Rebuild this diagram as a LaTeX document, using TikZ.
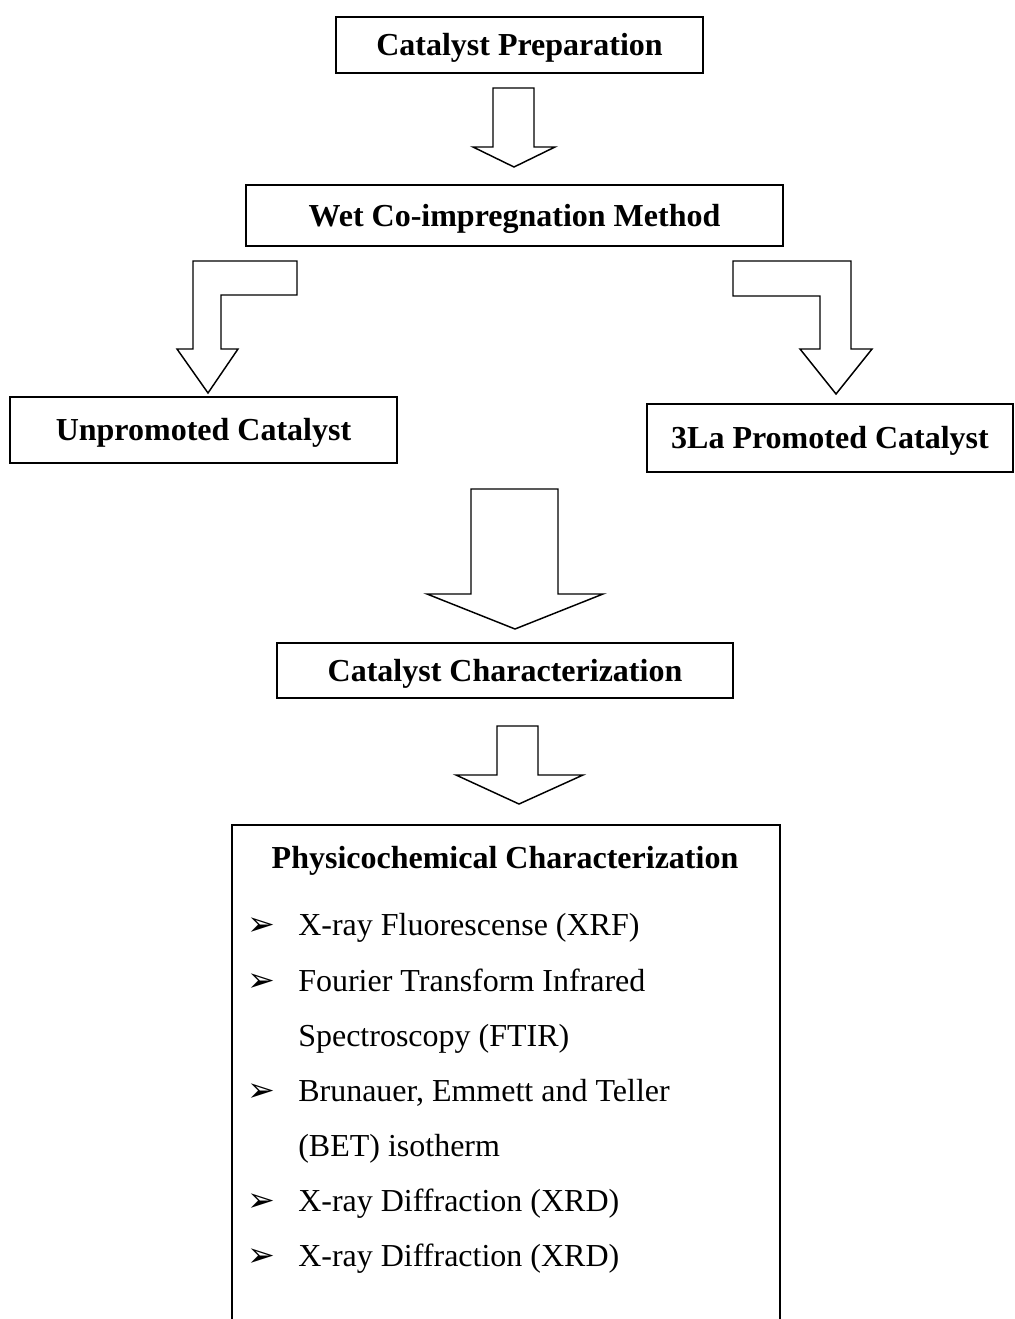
\documentclass[tikz,border=0pt]{standalone}
\usepackage{fontspec}
\setmainfont{Liberation Serif}
\newfontfamily\symfont{DejaVu Sans}
\begin{document}
\begin{tikzpicture}[x=0.75pt, y=-0.75pt,
        box/.style={rectangle, draw, line width=1.5pt, inner sep=0pt, text height=17pt, text depth=1pt, font=\fontsize{24}{28}\selectfont\bfseries},
        blockarrow/.style={draw, line width=1.1pt, fill=white, line join=miter},
        item/.style={anchor=base west, inner sep=0pt, font=\fontsize{24}{28}\selectfont},
        tick/.style={anchor=base west, inner sep=0pt, font=\symfont\fontsize{25}{28}\selectfont}
    ]
        \useasboundingbox (0,0) rectangle (1014,1319);

        \node[box, minimum width=275.25pt, minimum height=42pt] (prep) at (519.5,45) {Catalyst Preparation};
        \node[box, minimum width=402.75pt, minimum height=45.75pt] (wet) at (514.5,215.5) {Wet Co-impregnation Method};
        \node[box, minimum width=290.25pt, minimum height=49.5pt] (unprom) at (203.5,430) {Unpromoted Catalyst};
        \node[box, minimum width=274.5pt, minimum height=51pt] (prom) at (830,438) {3La Promoted Catalyst};
        \node[box, minimum width=342pt, minimum height=41.25pt] (charac) at (505,670.5) {Catalyst Characterization};
        \node[box, minimum width=411pt, minimum height=378.75pt] (phys) at (506,1077.5) {};
        \node[box, draw=none] (physhead) at (505,858) {Physicochemical Characterization};

        % block arrows
        \draw[blockarrow] (493,88) -- (534,88) -- (534,147) -- (555,147) -- (514,167) -- (473,147) -- (493,147) -- cycle;
        \draw[blockarrow] (297,261) -- (193,261) -- (193,349) -- (177,349) -- (208,393) -- (238,349) -- (221,349) -- (221,295) -- (297,295) -- cycle;
        \draw[blockarrow] (733,261) -- (851,261) -- (851,349) -- (872,349) -- (836,394) -- (800,349) -- (820,349) -- (820,296) -- (733,296) -- cycle;
        \draw[blockarrow] (471,489) -- (558,489) -- (558,594) -- (603,594) -- (515,629) -- (427,594) -- (471,594) -- cycle;
        \draw[blockarrow] (497,726) -- (538,726) -- (538,775) -- (583,775) -- (519,804) -- (456,775) -- (497,775) -- cycle;

        % list
        \node[tick] (b1) at (247,935) {➢};
        \node[item] (xrf) at (298,935) {X-ray Fluorescense (XRF)};
        \node[tick] (b2) at (247,991) {➢};
        \node[item] (ftir) at (298,991) {Fourier Transform Infrared};
        \node[item] (ftir2) at (298,1046) {Spectroscopy (FTIR)};
        \node[tick] (b3) at (247,1101) {➢};
        \node[item] (bet) at (298,1101) {Brunauer, Emmett and Teller};
        \node[item] (bet2) at (298,1156) {(BET) isotherm};
        \node[tick] (b4) at (247,1211) {➢};
        \node[item] (xrd) at (298,1211) {X-ray Diffraction (XRD)};
        \node[tick] (b5) at (247,1266) {➢};
        \node[item] (xrd2) at (298,1266) {X-ray Diffraction (XRD)};
    \end{tikzpicture}
\end{document}
